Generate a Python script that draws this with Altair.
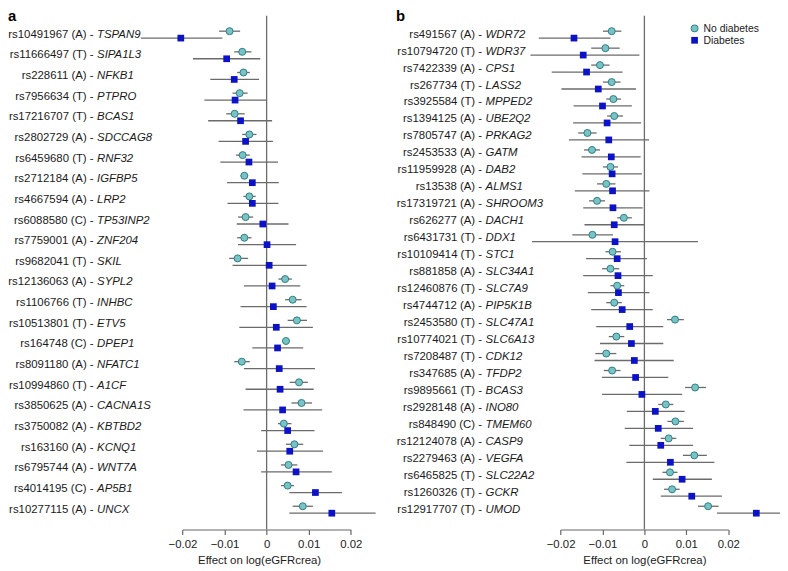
import altair as alt
import pandas as pd

# ---------------- Panel a ----------------
rs_a = ["rs10491967", "rs11666497", "rs228611", "rs7956634", "rs17216707", "rs2802729",
        "rs6459680", "rs2712184", "rs4667594", "rs6088580", "rs7759001", "rs9682041",
        "rs12136063", "rs1106766", "rs10513801", "rs164748", "rs8091180", "rs10994860",
        "rs3850625", "rs3750082", "rs163160", "rs6795744", "rs4014195", "rs10277115"]
allele_a = ["A", "T", "A", "T", "T", "A", "T", "A", "A", "C", "A", "T",
            "A", "T", "T", "C", "A", "T", "A", "A", "A", "A", "C", "A"]
gene_a = ["TSPAN9", "SIPA1L3", "NFKB1", "PTPRO", "BCAS1", "SDCCAG8", "RNF32", "IGFBP5",
          "LRP2", "TP53INP2", "ZNF204", "SKIL", "SYPL2", "INHBC", "ETV5", "DPEP1",
          "NFATC1", "A1CF", "CACNA1S", "KBTBD2", "KCNQ1", "WNT7A", "AP5B1", "UNCX"]
nd_a = [-0.0088, -0.0058, -0.0055, -0.0064, -0.0076, -0.0041, -0.0057, -0.0053, -0.0041,
        -0.0050, -0.0053, -0.0069, 0.0044, 0.0062, 0.0072, 0.0046, -0.0059, 0.0077,
        0.0083, 0.0041, 0.0066, 0.0052, 0.0050, 0.0086]
nd_lo_a = [-0.0113, -0.0077, -0.0070, -0.0081, -0.0096, -0.0058, -0.0073, -0.0062, -0.0055,
           -0.0068, -0.0070, -0.0089, 0.0028, 0.0044, 0.0050, 0.0038, -0.0077, 0.0055,
           0.0059, 0.0027, 0.0046, 0.0034, 0.0034, 0.0062]
nd_hi_a = [-0.0063, -0.0036, -0.0040, -0.0045, -0.0052, -0.0024, -0.0040, -0.0044, -0.0026,
           -0.0032, -0.0036, -0.0044, 0.0060, 0.0083, 0.0096, 0.0054, -0.0040, 0.0098,
           0.0108, 0.0059, 0.0087, 0.0073, 0.0065, 0.0110]
d_a = [-0.0204, -0.0095, -0.0077, -0.0075, -0.0062, -0.0050, -0.0042, -0.0034, -0.0034,
       -0.0009, 0.0001, 0.0006, 0.0013, 0.0016, 0.0023, 0.0026, 0.0030, 0.0032,
       0.0038, 0.0050, 0.0055, 0.0070, 0.0116, 0.0155]
d_lo_a = [-0.0299, -0.0175, -0.0134, -0.0148, -0.0139, -0.0114, -0.0110, -0.0094, -0.0093,
          -0.0071, -0.0068, -0.0081, -0.0054, -0.0062, -0.0065, -0.0034, -0.0054, -0.0050,
          -0.0055, -0.0013, -0.0023, -0.0013, 0.0054, 0.0054]
d_hi_a = [-0.0105, -0.0015, -0.0018, 0.0001, 0.0013, 0.0015, 0.0027, 0.0029, 0.0028,
          0.0052, 0.0070, 0.0095, 0.0080, 0.0095, 0.0110, 0.0087, 0.0115, 0.0112,
          0.0132, 0.0114, 0.0134, 0.0155, 0.0179, 0.0259]

# ---------------- Panel b ----------------
rs_b = ["rs491567", "rs10794720", "rs7422339", "rs267734", "rs3925584", "rs1394125",
        "rs7805747", "rs2453533", "rs11959928", "rs13538", "rs17319721", "rs626277",
        "rs6431731", "rs10109414", "rs881858", "rs12460876", "rs4744712", "rs2453580",
        "rs10774021", "rs7208487", "rs347685", "rs9895661", "rs2928148", "rs848490",
        "rs12124078", "rs2279463", "rs6465825", "rs1260326", "rs12917707"]
allele_b = ["A", "T", "A", "T", "T", "A", "A", "A", "A", "A", "A", "A", "T", "T", "A",
            "T", "A", "T", "T", "T", "A", "T", "A", "C", "A", "A", "T", "T", "T"]
gene_b = ["WDR72", "WDR37", "CPS1", "LASS2", "MPPED2", "UBE2Q2", "PRKAG2", "GATM", "DAB2",
          "ALMS1", "SHROOM3", "DACH1", "DDX1", "STC1", "SLC34A1", "SLC7A9", "PIP5K1B",
          "SLC47A1", "SLC6A13", "CDK12", "TFDP2", "BCAS3", "INO80", "TMEM60", "CASP9",
          "VEGFA", "SLC22A2", "GCKR", "UMOD"]
nd_b = [-0.0078, -0.0093, -0.0106, -0.0078, -0.0074, -0.0072, -0.0136, -0.0125, -0.0081,
        -0.0091, -0.0113, -0.0049, -0.0124, -0.0076, -0.0081, -0.0065, -0.0072, 0.0073,
        -0.0067, -0.0091, -0.0077, 0.0121, 0.0051, 0.0074, 0.0058, 0.0119, 0.0061,
        0.0066, 0.0152]
nd_lo_b = [-0.0099, -0.0127, -0.0127, -0.0099, -0.0091, -0.0089, -0.0158, -0.0144, -0.0099,
           -0.0113, -0.0132, -0.0065, -0.0172, -0.0093, -0.0101, -0.0081, -0.0091, 0.0054,
           -0.0085, -0.0117, -0.0097, 0.0097, 0.0033, 0.0055, 0.0039, 0.0092, 0.0043,
           0.0047, 0.0128]
nd_hi_b = [-0.0055, -0.0059, -0.0083, -0.0057, -0.0056, -0.0051, -0.0114, -0.0106, -0.0063,
           -0.0069, -0.0094, -0.0030, -0.0075, -0.0056, -0.0060, -0.0048, -0.0054, 0.0094,
           -0.0048, -0.0067, -0.0057, 0.0147, 0.0069, 0.0094, 0.0076, 0.0149, 0.0079,
           0.0084, 0.0177]
d_b = [-0.0168, -0.0146, -0.0138, -0.0110, -0.0100, -0.0089, -0.0085, -0.0079, -0.0077,
       -0.0076, -0.0075, -0.0072, -0.0070, -0.0065, -0.0063, -0.0062, -0.0053, -0.0035,
       -0.0031, -0.0024, -0.0021, -0.0006, 0.0026, 0.0033, 0.0039, 0.0062, 0.0090,
       0.0113, 0.0267]
d_lo_b = [-0.0252, -0.0272, -0.0221, -0.0198, -0.0169, -0.0170, -0.0180, -0.0150, -0.0148,
          -0.0166, -0.0146, -0.0143, -0.0268, -0.0139, -0.0146, -0.0135, -0.0127, -0.0115,
          -0.0106, -0.0119, -0.0101, -0.0101, -0.0042, -0.0047, -0.0036, -0.0043, 0.0020,
          0.0039, 0.0173]
d_hi_b = [-0.0081, -0.0012, -0.0052, -0.0020, -0.0030, -0.0008, 0.0011, -0.0009, -0.0006,
          0.0012, -0.0004, 0.0000, 0.0128, 0.0006, 0.0020, 0.0012, 0.0020, 0.0045,
          0.0045, 0.0070, 0.0057, 0.0090, 0.0096, 0.0116, 0.0116, 0.0167, 0.0161,
          0.0185, 0.0340]

tick_values = [-0.02, -0.01, 0, 0.01, 0.02]
legend_labels = ["No diabetes", "Diabetes"]
panel_letters = ["a", "b"]

FONT = "Liberation Sans"
GREY = "#6b6b6b"
TEAL_FILL = "#79c3c5"
TEAL_EDGE = "#2c7d86"
BLUE = "#0c12c6"
W, H = 780, 524
LABEL_SIZE = 11.5


def panel(rs, allele, gene, nd, nd_lo, nd_hi, d, d_lo, d_hi, xrange, lab_x, extra_axis):
    n = len(rs)
    df = pd.DataFrame({
        "idx": list(range(n)),
        "rs": [f"{r} ({a}) -" for r, a in zip(rs, allele)],
        "gene": gene,
        "nd": nd, "nd_lo": nd_lo, "nd_hi": nd_hi,
        "d": d, "d_lo": d_lo, "d_hi": d_hi,
    })
    xs = alt.Scale(domain=[-0.02, 0.02], range=xrange, nice=False, zero=False)
    ys = alt.Scale(domain=[0, n - 1], range=[24, 504], nice=False, zero=False)
    axis = alt.Axis(orient="bottom", values=tick_values, format=".2~f",
                    title="Effect on log(eGFRcrea)", grid=False, labelOverlap=False,
                    labelFlush=False, **extra_axis)
    Y = alt.Y("idx:Q", scale=ys, axis=None)
    base = alt.Chart(df)

    zero = alt.Chart(pd.DataFrame({"z": [0.0]})).mark_rule(
        color=GREY, strokeWidth=1.3).encode(
        x=alt.X("z:Q", scale=xs, axis=axis), y=alt.value(5), y2=alt.value(H))

    w_nd = base.mark_rule(color=GREY, strokeWidth=1.3, yOffset=-3.5).encode(
        x=alt.X("nd_lo:Q", scale=xs, axis=axis), x2="nd_hi:Q", y=Y)
    w_d = base.mark_rule(color=GREY, strokeWidth=1.3, yOffset=3.5).encode(
        x=alt.X("d_lo:Q", scale=xs, axis=axis), x2="d_hi:Q", y=Y)
    p_nd = base.mark_point(shape="circle", filled=True, size=50, fill=TEAL_FILL,
                           stroke=TEAL_EDGE, strokeWidth=1, opacity=1,
                           yOffset=-3.5).encode(
        x=alt.X("nd:Q", scale=xs, axis=axis), y=Y)
    p_d = base.mark_point(shape="square", filled=True, size=46, color=BLUE, opacity=1,
                          yOffset=3.5).encode(
        x=alt.X("d:Q", scale=xs, axis=axis), y=Y)
    t_rs = base.mark_text(align="right", baseline="middle", font=FONT,
                          fontSize=LABEL_SIZE, color="#1a1a1a").encode(
        x=alt.value(lab_x), y=Y, text="rs:N")
    t_gene = base.mark_text(align="left", baseline="middle", font=FONT,
                            fontSize=LABEL_SIZE, fontStyle="italic",
                            color="#1a1a1a").encode(
        x=alt.value(lab_x + 3.5), y=Y, text="gene:N")
    return alt.layer(zero, w_nd, w_d, p_nd, p_d, t_rs, t_gene)


panel_a = panel(rs_a, allele_a, gene_a, nd_a, nd_lo_a, nd_hi_a, d_a, d_lo_a, d_hi_a,
                [176.3, 346.3], 86.5, {"titleX": 253.7})
panel_b = panel(rs_b, allele_b, gene_b, nd_b, nd_lo_b, nd_hi_b, d_b, d_lo_b, d_hi_b,
                [558.3, 727.7], 479, {})

letter_a = alt.Chart(pd.DataFrame({"t": [panel_letters[0]]})).mark_text(
    align="left", baseline="alphabetic", font=FONT, fontSize=15, fontWeight="bold",
    color="black").encode(x=alt.value(0), y=alt.value(10), text="t:N")
letter_b = alt.Chart(pd.DataFrame({"t": [panel_letters[1]]})).mark_text(
    align="left", baseline="alphabetic", font=FONT, fontSize=15, fontWeight="bold",
    color="black").encode(x=alt.value(392), y=alt.value(10), text="t:N")

leg_c = alt.Chart(pd.DataFrame({"t": [legend_labels[0]]})).mark_point(
    shape="circle", filled=True, size=50, fill=TEAL_FILL, stroke=TEAL_EDGE,
    strokeWidth=1, opacity=1).encode(x=alt.value(693.7), y=alt.value(17.7))
leg_s = alt.Chart(pd.DataFrame({"t": [legend_labels[1]]})).mark_point(
    shape="square", filled=True, size=46, color=BLUE, opacity=1).encode(
    x=alt.value(693.7), y=alt.value(29.7))
leg_t1 = alt.Chart(pd.DataFrame({"t": [legend_labels[0]]})).mark_text(
    align="left", baseline="middle", font=FONT, fontSize=10.5, color="#1a1a1a").encode(
    x=alt.value(702.7), y=alt.value(18), text="t:N")
leg_t2 = alt.Chart(pd.DataFrame({"t": [legend_labels[1]]})).mark_text(
    align="left", baseline="middle", font=FONT, fontSize=10.5, color="#1a1a1a").encode(
    x=alt.value(702.7), y=alt.value(30), text="t:N")

chart = alt.layer(
    panel_a, panel_b, letter_a, letter_b, leg_c, leg_s, leg_t1, leg_t2
).resolve_scale(
    x="independent", y="independent"
).properties(
    width=W, height=H,
    padding={"left": 0, "top": 0, "right": 0, "bottom": 40},
    autosize=alt.AutoSizeParams(type="none"),
).configure_view(
    stroke=None
).configure_axis(
    labelFont=FONT, titleFont=FONT, labelFontSize=11.5, titleFontSize=11.5,
    titleFontWeight="normal", labelColor="#222222", titleColor="#222222",
    tickColor="#666666", domainColor="#666666", tickSize=5, tickWidth=1.2,
    domainWidth=1.2, labelPadding=4, titlePadding=5,
)

chart.save("out.html", embed_options={"renderer": "svg", "actions": False})
